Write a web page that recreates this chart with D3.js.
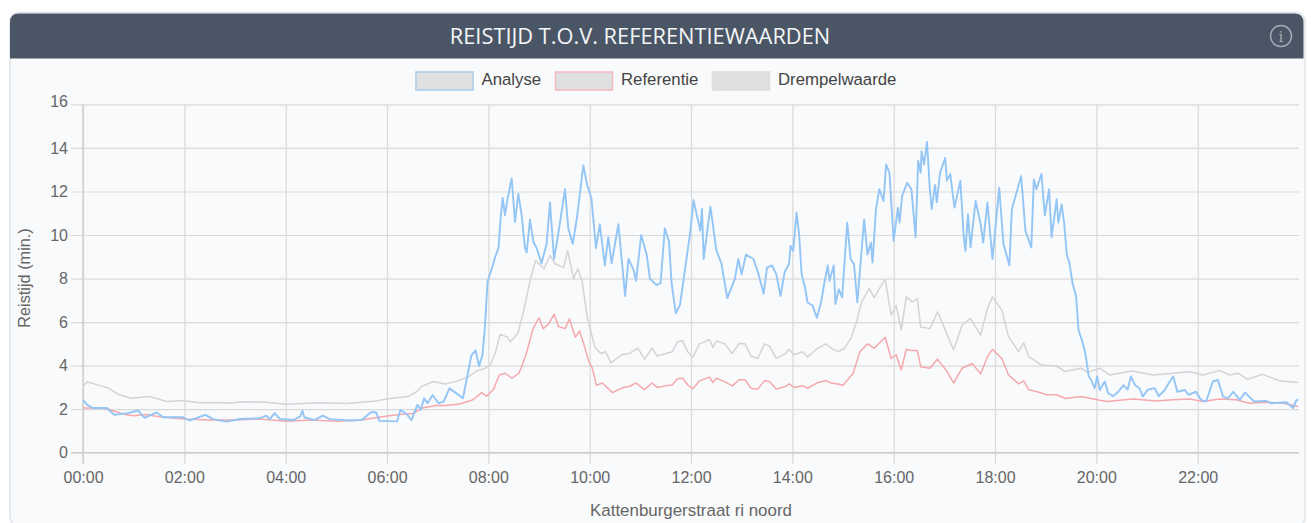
<!DOCTYPE html>
<html>
<head>
<meta charset="utf-8">
<title>Reistijd t.o.v. referentiewaarden</title>
<script src="https://cdnjs.cloudflare.com/ajax/libs/d3/7.8.5/d3.min.js"></script>
<style>
	html, body { margin: 0; padding: 0; background: #fff; overflow: hidden; }
	svg { display: block; }
	text { font-family: "Liberation Sans", Arial, sans-serif; }
	.tick text { fill: #666; font-size: 16px; }
	.grid line { stroke: #dadada; stroke-width: 1.2; }
	.grid path { display: none; }
</style>
</head>
<body>
<div id="chart"></div>
<script>
	'use strict';

	// values, as [minutes since 00:00, travel time in minutes]
	const analyse = [
		[0,2.43],[5,2.2],[12,2.05],[28,2.05],[37,1.74],[53,1.82],[65,1.94],[73,1.6],[87,1.85],[95,1.63],[118,1.63],
		[126,1.48],[145,1.74],[154,1.54],[170,1.43],[186,1.55],[209,1.58],[217,1.7],[221,1.54],[227,1.82],[233,1.55],
		[249,1.5],[257,1.66],[260,1.92],[262,1.63],[274,1.5],[284,1.7],[292,1.54],[316,1.48],[330,1.5],[341,1.86],
		[347,1.86],[351,1.46],[372,1.44],[376,1.97],[384,1.74],[389,1.5],[396,2.2],[400,1.97],[404,2.5],[408,2.27],
		[414,2.65],[421,2.27],[427,2.35],[434,2.96],[441,2.76],[450,2.5],[455,3.5],[460,4.48],[465,4.7],[469,3.98],
		[473,4.48],[476,5.78],[479,7.84],[484,8.45],[488,8.98],[492,9.4],[494.6,10.8],[497,11.7],[499.7,10.9],[502.5,11.6],
		[507.6,12.6],[511.6,10.6],[515.5,11.9],[519.5,10.9],[523.4,9.4],[525.4,9.2],[529.3,10.7],[533.3,9.7],[537.2,9.4],
		[543,8.7],[549,9.6],[553,11.5],[557.8,8.9],[563,10.1],[570.8,12.1],[574.7,10.3],[580,9.6],[584.6,10.7],[592.5,13.2],
		[597,12.3],[602,11.7],[607.5,9.4],[612,10.5],[618,8.6],[622,9.9],[626,8.7],[634,10.5],[642,7.2],[646,8.9],[652,8.4],
		[655,7.9],[661,10],[667.5,9.1],[671.4,8],[679,7.7],[684,7.8],[689,10.3],[694,9.7],[697,7.8],[702,6.4],[707,6.8],
		[711,7.9],[719,10.1],[723,11.6],[731,10.2],[733,11.2],[735,8.9],[743,11.3],[750,9.3],[756,8.7],[763,7.1],[772,8],
		[776,8.9],[780,8.2],[785,9.1],[794,8.9],[800,8.2],[806,7.3],[810,8.5],[816,8.6],[821,8.2],[826,7.2],[831,8.3],
		[836,8.66],[838,9.5],[841,9.27],[845,11.03],[848,10.04],[851,8.2],[855,7.6],[858,6.9],[864,6.76],[869,6.2],[874,6.9],
		[878,7.83],[882,8.6],[884,7.9],[889,8.6],[891,6.83],[895,7.5],[899,7.14],[905,10.57],[909,8.9],[913,8.66],[917,6.9],
		[925,10.7],[929,9.1],[933,9.65],[935,8.74],[939,11.18],[943,12.1],[948,11.56],[951,13.24],[955,12.86],[960,9.73],
		[965,11.26],[967,10.57],[970,11.8],[976,12.4],[981,12.1],[986,9.9],[989,13.4],[992,12.86],[993,13.85],[996,13.24],
		[999.5,14.27],[1003,12],[1005,11.2],[1009,12.3],[1011,11.5],[1015,12.86],[1021,13.54],[1023,12.5],[1027,12.8],
		[1032,11.26],[1039,12.5],[1043,9.9],[1045,9.27],[1048,10.95],[1051,9.43],[1057,11.56],[1063,10.5],[1066,9.65],
		[1071,11.5],[1077,8.9],[1085,12.17],[1090,9.6],[1097,8.6],[1100,11.2],[1111,12.7],[1116,10.2],[1123,9.43],[1126,12.55],
		[1129,12.1],[1135,12.8],[1139,10.9],[1144,12.1],[1147,9.9],[1153,11.64],[1155,10.57],[1159,11.4],[1162,10.5],[1165,9.1],
		[1168,8.74],[1172,7.75],[1176,7.2],[1179,5.6],[1183,5.17],[1187,4.56],[1191,3.5],[1194,3.34],[1198,2.96],[1201,3.5],
		[1204,2.88],[1210,3.27],[1214,2.73],[1220,2.6],[1226,2.8],[1232,3.1],[1237,2.9],[1241,3.5],[1246,3.1],[1251,2.96],
		[1255,2.58],[1261,2.9],[1269,2.96],[1274,2.6],[1281,2.88],[1287,3.27],[1291,3.5],[1296,2.8],[1305,2.88],[1309,2.66],
		[1318,2.8],[1324,2.43],[1330,2.35],[1338,3.27],[1344,3.34],[1350,2.58],[1356,2.5],[1362,2.8],[1370,2.43],[1376,2.76],
		[1387,2.35],[1401,2.38],[1407,2.27],[1425,2.32],[1433,2.05],[1437,2.43],[1439,2.4]
	];

	const referentie = [
		[0,2.05],[20,2.05],[30,2],[50,1.75],[60,1.7],[75,1.75],[90,1.65],[120,1.55],[150,1.5],[180,1.5],[210,1.55],[240,1.45],
		[270,1.5],[300,1.45],[330,1.5],[350,1.63],[374,1.75],[390,1.8],[402,2.05],[418,2.17],[430,2.17],[446,2.24],[462,2.43],
		[472,2.76],[478,2.6],[486,2.9],[493,3.57],[500,3.65],[508,3.42],[516,3.65],[519,3.9],[525,4.56],[533,5.7],[540,6.2],
		[545,5.7],[551,5.9],[558,6.36],[563,5.8],[571,5.7],[576,6.15],[583,5.3],[588,5.6],[593,5],[599,4.2],[603,3.9],[608,3.1],
		[615,3.2],[627,2.76],[640,3],[647,3.04],[655,3.2],[665,2.9],[674,3.2],[680,3],[690,3.07],[698,3.12],[704,3.4],[710,3.42],
		[716,3.12],[722,2.93],[730,3.3],[742,3.47],[746,3.22],[750,3.42],[758,3.3],[769,3.07],[777,3.35],[784,3.35],[791,2.96],
		[799,2.92],[807,3.3],[813,3.27],[821,2.92],[832,3.04],[836,3.16],[842,3],[852,3.08],[858,2.96],[870,3.22],[880,3.31],
		[886,3.2],[894,3.16],[900,3.1],[912,3.65],[920,4.64],[929,5],[937,4.8],[950,5.3],[957,4.33],[963,4.5],[969,3.8],[975,4.75],
		[980,4.7],[988,4.7],[992,3.95],[1003,3.88],[1012,4.3],[1022,3.8],[1031,3.2],[1041,3.88],[1053,4.1],[1063,3.62],[1071,4.4],
		[1077,4.75],[1088,4.33],[1096,3.57],[1108,3.16],[1114,3.3],[1120,2.9],[1133,2.77],[1141,2.66],[1153,2.66],[1163,2.49],
		[1182,2.58],[1198,2.46],[1212,2.35],[1244,2.47],[1271,2.38],[1291,2.43],[1311,2.47],[1326,2.35],[1346,2.47],[1366,2.43],
		[1381,2.27],[1401,2.32],[1421,2.27],[1439,2.12]
	];

	const drempelwaarde = [
		[0,3.05],[5,3.26],[20,3.08],[30,2.97],[43,2.66],[57,2.5],[79,2.58],[99,2.35],[118,2.4],[138,2.3],[158,2.3],[174,2.28],
		[189,2.34],[217,2.32],[241,2.23],[280,2.3],[312,2.26],[347,2.37],[361,2.48],[385,2.58],[395,2.8],[401,3.04],[415,3.27],
		[429,3.16],[445,3.31],[457,3.5],[467,3.77],[476,3.87],[482,4.03],[488,4.56],[494,5.43],[502,5.32],[506,5.1],[515,5.48],
		[522,6.54],[530,8],[536,8.83],[546,8.45],[553,9.06],[559,8.68],[569,8.5],[574,9.28],[581,8],[586,8.45],[591,7.9],[597,6.24],
		[601,5.63],[606,4.87],[613,4.56],[619,4.64],[625,4.13],[638,4.5],[647,4.56],[657,4.8],[665,4.3],[674,4.8],[680,4.44],
		[698,4.64],[704,5.1],[710,5.14],[716,4.64],[722,4.38],[730,5],[742,5.2],[746,4.84],[750,5.14],[760,5],[769,4.56],[777,5.02],
		[784,5],[791,4.44],[799,4.33],[807,5],[813,4.9],[821,4.33],[832,4.56],[836,4.75],[842,4.5],[852,4.64],[858,4.4],[870,4.8],
		[880,5],[886,4.8],[894,4.64],[902,4.8],[910,5.3],[916,6],[922,6.93],[931,7.54],[937,7.12],[943,7.54],[950,7.96],[957,6.32],
		[963,6.77],[969,5.63],[975,7.16],[982,6.93],[988,7.08],[992,5.78],[1003,5.7],[1012,6.47],[1022,5.55],[1031,4.72],[1041,5.86],
		[1051,6.16],[1063,5.4],[1071,6.62],[1077,7.16],[1088,6.55],[1096,5.33],[1108,4.64],[1114,5.05],[1120,4.41],[1135,4.03],
		[1153,3.98],[1163,3.73],[1182,3.88],[1190,3.69],[1204,3.88],[1216,3.57],[1242,3.75],[1267,3.57],[1291,3.65],[1311,3.72],
		[1326,3.57],[1346,3.77],[1358,3.57],[1368,3.65],[1379,3.37],[1397,3.6],[1417,3.3],[1439,3.23]
	];

	const seriesNames = ['Analyse', 'Referentie', 'Drempelwaarde'];
	const seriesColors = ['#93c5f5', '#f5a8ad', '#d4d4d7'];
	const legendStrokes = ['#a9cfee', '#f3bcc2', '#dedede'];
	const yTicks = [0, 2, 4, 6, 8, 10, 12, 14, 16];
	const xTicks = [0, 120, 240, 360, 480, 600, 720, 840, 960, 1080, 1200, 1320];
	const xTickLabels = ['00:00', '02:00', '04:00', '06:00', '08:00', '10:00', '12:00', '14:00', '16:00', '18:00', '20:00', '22:00'];

	const chartTitle = 'REISTIJD T.O.V. REFERENTIEWAARDEN';
	const yTitle = 'Reistijd (min.)';
	const xTitle = 'Kattenburgerstraat ri noord';

	// layout
	const width = 1311;
	const height = 523;
	const plot = { left: 83, right: 1299, top: 104.4, bottom: 452.7 };

	const svg = d3.select('#chart').append('svg')
		.attr('width', width)
		.attr('height', height);

	// the source is a soft screenshot, so the lines get a very small blur
	svg.append('defs').append('filter')
		.attr('id', 'soft')
		.append('feGaussianBlur')
		.attr('stdDeviation', 0.4);

	// panel + header
	svg.append('rect')
		.attr('x', 10)
		.attr('y', 12.5)
		.attr('width', 1295)
		.attr('height', 514)
		.attr('rx', 9)
		.attr('fill', '#f9fafb')
		.attr('stroke', '#e0e3e8')
		.attr('stroke-width', 1.5);

	const hx = 10, hy = 13.5, hw = 1293.5, hh = 45, hr = 9;
	svg.append('path')
		.attr('d', `M ${hx} ${hy + hh} V ${hy + hr} Q ${hx} ${hy} ${hx + hr} ${hy} H ${hx + hw - hr} Q ${hx + hw} ${hy} ${hx + hw} ${hy + hr} V ${hy + hh} Z`)
		.attr('fill', '#4a5565');

	svg.append('text')
		.attr('x', 640)
		.attr('y', 44)
		.attr('text-anchor', 'middle')
		.attr('fill', '#f4f6f8')
		.style('font-family', '"Open Sans", sans-serif')
		.style('font-size', '21.8px')
		.text(chartTitle);

	// info icon
	svg.append('circle')
		.attr('cx', 1281)
		.attr('cy', 36)
		.attr('r', 10.5)
		.attr('fill', 'none')
		.attr('stroke', '#a3aab6')
		.attr('stroke-width', 1.5);
	svg.append('text')
		.attr('x', 1281)
		.attr('y', 42)
		.attr('text-anchor', 'middle')
		.attr('fill', '#a3aab6')
		.style('font-family', '"DejaVu Serif", serif')
		.style('font-size', '15px')
		.text('i');

	// scales
	const x = d3.scaleLinear().domain([0, 1440]).range([plot.left, plot.right]);
	const y = d3.scaleLinear().domain([0, 16]).range([plot.bottom, plot.top]);

	// grid lines and tick labels both come from the axes
	svg.append('g')
		.attr('class', 'grid')
		.attr('transform', 'translate(0,' + (plot.bottom + 11) + ')')
		.call(d3.axisBottom(x).tickValues(xTicks).tickFormat('').tickSize(plot.top - plot.bottom - 11));

	svg.append('g')
		.attr('transform', 'translate(0,' + (plot.bottom + 11) + ')')
		.call(d3.axisBottom(x)
			.tickValues(xTicks)
			.tickFormat(function (d, i) { return xTickLabels[i]; })
			.tickSize(0)
			.tickPadding(7.6))
		.call(function (g) { g.select('.domain').remove(); });

	svg.append('g')
		.attr('class', 'grid')
		.attr('transform', 'translate(' + plot.right + ',0)')
		.call(d3.axisLeft(y).tickValues(yTicks).tickFormat('').tickSize(plot.right - plot.left + 12));

	svg.append('g')
		.attr('transform', 'translate(' + plot.left + ',0)')
		.call(d3.axisLeft(y).tickValues(yTicks).tickSize(0).tickPadding(15))
		.call(function (g) {
			g.select('.domain').remove();
			// top label sits a little above its grid line
			g.selectAll('.tick text').filter(function (d) { return d === 16; }).attr('dy', '0.16em');
		});

	// darker zero lines
	svg.append('line')
		.attr('x1', plot.left - 12).attr('x2', plot.right)
		.attr('y1', y(0)).attr('y2', y(0))
		.attr('stroke', '#cdcdcd').attr('stroke-width', 1.3);
	svg.append('line')
		.attr('x1', x(0)).attr('x2', x(0))
		.attr('y1', plot.top).attr('y2', plot.bottom + 11)
		.attr('stroke', '#cdcdcd').attr('stroke-width', 1.3);

	// series, Analyse ends up on top
	const line = d3.line()
		.x(function (d) { return x(d[0]); })
		.y(function (d) { return y(d[1]); });

	const lines = svg.append('g').attr('filter', 'url(#soft)');

	[drempelwaarde, referentie, analyse].forEach(function (data, i) {
		lines.append('path')
			.datum(data)
			.attr('fill', 'none')
			.attr('stroke', seriesColors[2 - i])
			.attr('stroke-width', i === 2 ? 1.9 : 1.5)
			.attr('stroke-linejoin', 'round')
			.attr('d', line);
	});

	// legend
	const legendX = [416, 555.5, 712.5];
	const legend = svg.append('g').selectAll('g')
		.data(seriesNames)
		.join('g')
		.attr('transform', function (d, i) { return 'translate(' + legendX[i] + ',72)'; });

	legend.append('rect')
		.attr('width', 57)
		.attr('height', 18)
		.attr('fill', '#dfe0e1')
		.attr('stroke', function (d, i) { return legendStrokes[i]; })
		.attr('stroke-width', 1.6);

	legend.append('text')
		.attr('x', 65.5)
		.attr('y', 13)
		.attr('fill', '#444')
		.style('font-size', '16.8px')
		.text(function (d) { return d; });

	// axis titles
	svg.append('text')
		.attr('transform', 'translate(30,278) rotate(-90)')
		.attr('text-anchor', 'middle')
		.attr('fill', '#666')
		.style('font-size', '16.3px')
		.text(yTitle);

	svg.append('text')
		.attr('x', 691)
		.attr('y', 515.5)
		.attr('text-anchor', 'middle')
		.attr('fill', '#666')
		.style('font-size', '16.9px')
		.text(xTitle);
</script>
</body>
</html>
